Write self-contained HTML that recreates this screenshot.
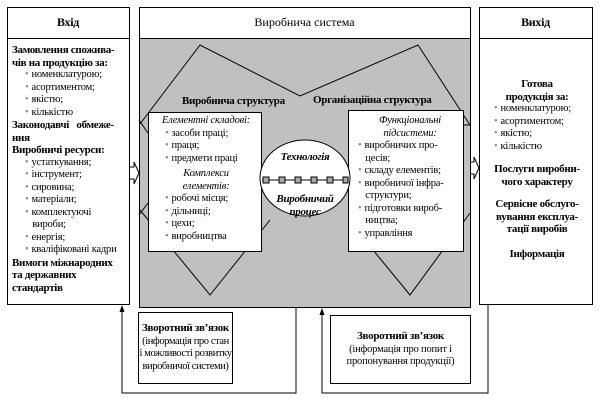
<!DOCTYPE html>
<html><head><meta charset="utf-8"><style>
body{margin:0;width:600px;height:400px;background:#fff;position:relative;overflow:hidden;font-family:"Liberation Serif",serif;color:#000}
.a{position:absolute;white-space:nowrap}
.t{font-size:10.5px;line-height:12.5px;letter-spacing:-0.2px}
.b{font-weight:bold;font-size:11px;letter-spacing:-0.3px}
ul{margin:0;padding:0;list-style:none}
li:before{content:"\2022";color:#888;margin-right:3px}
</style></head><body>
<svg class="a" style="left:0;top:0" width="600" height="400">
<rect x="7.5" y="7.5" width="122" height="297" fill="#fff" stroke="#000"/>
<line x1="7" y1="38.5" x2="130" y2="38.5" stroke="#000"/>
<rect x="139.5" y="7.5" width="331" height="300" fill="#c0c0c0" stroke="#000"/>
<rect x="140" y="8" width="330" height="30" fill="#fff"/>
<line x1="139" y1="38.5" x2="471" y2="38.5" stroke="#000"/>
<rect x="479.5" y="7.5" width="113" height="297" fill="#fff" stroke="#000"/>
<line x1="479" y1="38.5" x2="593" y2="38.5" stroke="#000"/>
<g fill="none" stroke="#000">
<polyline points="140,124 200,45 300,96 418,45 470,125"/>
<polyline points="140,210 210,295 270,220"/>
<polyline points="350,222 410,295 470,213"/>
<line x1="139" y1="120" x2="148" y2="133"/>
<line x1="139" y1="215" x2="148" y2="203"/>
<line x1="463" y1="125" x2="470" y2="125"/>
</g>
<rect x="148.5" y="112.5" width="113" height="139" fill="#fff" stroke="#000"/>
<rect x="348.5" y="110.5" width="115" height="141" fill="#fff" stroke="#000"/>
<ellipse cx="305" cy="178" rx="45" ry="38" fill="#fff" stroke="#000"/>
<line x1="262" y1="180" x2="348" y2="180" stroke="#000"/>
<g fill="#aaa" stroke="#000">
<rect x="263" y="177" width="6" height="6"/><rect x="279" y="177" width="6" height="6"/><rect x="295" y="177" width="6" height="6"/><rect x="311" y="177" width="6" height="6"/><rect x="327" y="177" width="6" height="6"/><rect x="343" y="177" width="5" height="6"/>
</g>
<path d="M130,167 L134,167 L134,162 L139,173 L134,184 L134,179 L130,179" fill="#fff" stroke="#000"/>
<path d="M471,162 L474,162 L474,157 L479,168 L474,179 L474,174 L471,174" fill="#fff" stroke="#000"/>
<rect x="138.5" y="312.5" width="94" height="71" fill="#fff" stroke="#000"/>
<rect x="330.5" y="315.5" width="140" height="68" fill="#fff" stroke="#000"/>
<polyline points="296,308 296,393 122,393 122,308" fill="none" stroke="#000"/>
<polyline points="488,305 488,393 322,393 322,311" fill="none" stroke="#000"/>
<path d="M122,305 L119.5,312 L124.5,312 Z M322,308 L319.5,315 L324.5,315 Z"/>
</svg>
<div class="a b" style="left:7px;top:15px;width:122px;text-align:center;font-size:12px">Вхід</div>
<div class="a" style="left:139px;top:15px;width:331px;text-align:center;font-size:12px">Виробнича система</div>
<div class="a b" style="left:479px;top:15px;width:113px;text-align:center;font-size:12px">Вихід</div>
<div class="a t" style="left:12px;top:44px;width:118px">
<div class="b">Замовлення спожива-<br>чів на продукцію за:</div>
<ul style="padding-left:13px"><li>номенклатурою;</li><li>асортиментом;</li><li>якістю;</li><li>кількістю</li></ul>
<div class="b">Законодавчі&nbsp;&nbsp; обмеже-<br>ння</div>
<div class="b">Виробничі ресурси:</div>
<ul style="padding-left:13px"><li>устаткування;</li><li>інструмент;</li><li>сировина;</li><li>матеріали;</li><li>комплектуючі<br>&nbsp;&nbsp;&nbsp;вироби;</li><li>енергія;</li><li>кваліфіковані кадри</li></ul>
<div class="b">Вимоги міжнародних<br>та державних<br>стандартів</div>
</div>
<div class="a t b" style="left:182px;top:95px">Виробнича структура</div>
<div class="a t b" style="left:313px;top:94px">Організаційна структура</div>
<div class="a t" style="left:151px;top:115px;width:110px">
<div style="font-style:italic;text-align:center">Елементні складові:</div>
<ul style="padding-left:14px"><li>засоби праці;</li><li>праця;</li><li>предмети праці</li></ul>
<div style="font-style:italic;text-align:center;margin-top:3px">Комплекси<br>елементів:</div>
<ul style="padding-left:14px"><li>робочі місця;</li><li>дільниці;</li><li>цехи;</li><li>виробництва</li></ul>
</div>
<div class="a t b" style="left:260px;top:151px;width:90px;text-align:center;font-style:italic">Технологія</div>
<div class="a t b" style="left:260px;top:193px;width:90px;text-align:center;font-style:italic">Виробничий<br>процес</div>
<div class="a t" style="left:356px;top:115px;width:108px">
<div style="font-style:italic;text-align:center">Функціональні<br>підсистеми:</div>
<ul style="padding-left:2px"><li>виробничих про-<br>&nbsp;&nbsp;&nbsp;цесів;</li><li>складу елементів;</li><li>виробничої інфра-<br>&nbsp;&nbsp;&nbsp;структури;</li><li>підготовки вироб-<br>&nbsp;&nbsp;&nbsp;ництва;</li><li>управління</li></ul>
</div>
<div class="a t" style="left:482px;top:78px;width:110px">
<div class="b" style="text-align:center">Готова<br>продукція за:</div>
<ul style="padding-left:12px"><li>номенклатурою;</li><li>асортиментом;</li><li>якістю;</li><li>кількістю</li></ul>
<div class="b" style="text-align:center;margin-top:10px">Послуги виробни-<br>чого характеру</div>
<div class="b" style="text-align:center;margin-top:10px">Сервісне обслуго-<br>вування експлуа-<br>тації виробів</div>
<div class="b" style="text-align:center;margin-top:12px">Інформація</div>
</div>
<div class="a t" style="left:138px;top:322px;width:95px;text-align:center;letter-spacing:-0.4px"><b class="b">Зворотний зв’язок</b><br>(інформація про стан<br>і можливості розвитку<br>виробничої системи)</div>
<div class="a t" style="left:330px;top:330px;width:141px;text-align:center"><b class="b">Зворотний зв’язок</b><br>(інформація про попит і<br>пропонування продукції)</div>
</body></html>
